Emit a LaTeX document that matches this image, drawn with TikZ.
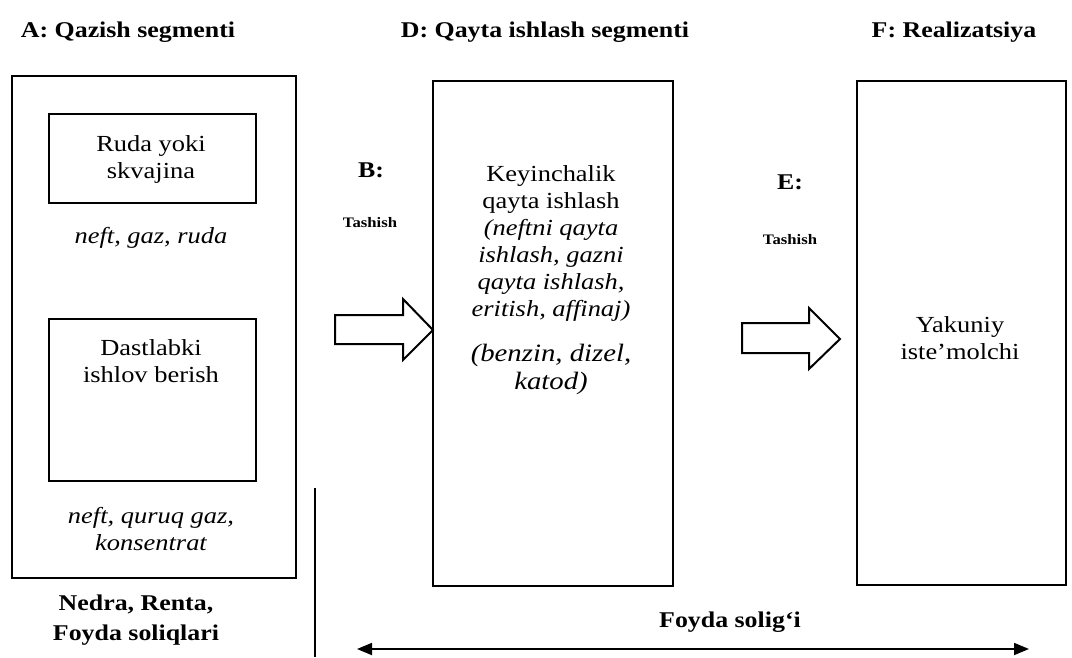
\documentclass[tikz,border=0pt]{standalone}
\usepackage{fontspec}
\setmainfont[FakeStretch=1.15]{Liberation Serif}
\usetikzlibrary{arrows.meta}
\begin{document}
\begin{tikzpicture}[x=1pt,y=-1pt,
  box/.style={draw,line width=2pt,inner sep=0pt,anchor=north west},
  ttl/.style={font=\fontsize{22.5}{26}\selectfont\bfseries,inner sep=0pt},
  txt/.style={font=\fontsize{23}{27}\selectfont,align=center,inner sep=0pt},
  itx/.style={font=\fontsize{23}{27}\selectfont\itshape,align=center,inner sep=0pt},
  small/.style={font=\fontsize{14.5}{16}\selectfont\bfseries,inner sep=0pt},
  blk/.style={draw,line width=2pt,fill=white,line join=miter}]
\useasboundingbox (0,0) rectangle (1072,657);
% titles
\node[ttl] (tA) at (128,32) {A: Qazish segmenti};
\node[ttl] (tD) at (545,32) {D: Qayta ishlash segmenti};
\node[ttl] (tF) at (954,32) {F: Realizatsiya};
% boxes
\node[box,minimum width=284pt,minimum height=502pt] (A) at (11,75) {};
\node[box,minimum width=207pt,minimum height=89pt] (A1) at (48,113) {};
\node[box,minimum width=207pt,minimum height=162pt] (A2) at (48,318) {};
\node[box,minimum width=240pt,minimum height=505pt] (D) at (432,80) {};
\node[box,minimum width=209pt,minimum height=504pt] (F) at (856,80) {};
% texts in A
\node[txt] (a1) at (151,159) {Ruda yoki\\skvajina};
\node[itx] (a1o) at (151,238) {neft, gaz, ruda};
\node[txt] (a2) at (151,361) {Dastlabki\\ishlov berish};
\node[itx] (a2o) at (151,529) {neft, quruq gaz,\\konsentrat};
% texts in D
\node[txt] (d1) at (551,189) {Keyinchalik\\qayta ishlash};
\node[itx] (d2) at (551,270) {(neftni qayta\\ishlash, gazni\\qayta ishlash,\\eritish, affinaj)};
\node[font=\fontsize{25}{28}\selectfont\itshape,align=center,inner sep=0pt] (d3) at (551,369) {(benzin, dizel,\\katod)};
% text in F
\node[txt] (f1) at (960,338) {Yakuniy\\iste’molchi};
% transport labels
\node[ttl] (B) at (371,170) {B:};
\node[small] (Bt) at (370,223) {Tashish};
\node[ttl] (E) at (790,182) {E:};
\node[small] (Et) at (790,240) {Tashish};
% block arrows
\draw[blk] (335,315) -- (403,315) -- (403,299) -- (433,330) -- (403,360) -- (403,344) -- (335,344) -- cycle;
\draw[blk] (742,323) -- (809,323) -- (809,308) -- (840,339) -- (809,369) -- (809,353) -- (742,353) -- cycle;
% bottom
\node[ttl,align=center,font=\fontsize{22.5}{30}\selectfont\bfseries] (tax1) at (136,620) {Nedra, Renta,\\Foyda soliqlari};
\node[ttl] (tax2) at (730,622) {Foyda solig‘i};
\coordinate (v1) at (315,488);
\coordinate (v2) at (315,657);
\draw[line width=2.4pt] (v1) -- (v2);
\coordinate (L) at (357,649);
\coordinate (R) at (1029,649);
\draw[line width=1.8pt,{Triangle[length=15pt,width=12pt]}-{Triangle[length=15pt,width=12pt]}] (L) -- (R);
\end{tikzpicture}
\end{document}
